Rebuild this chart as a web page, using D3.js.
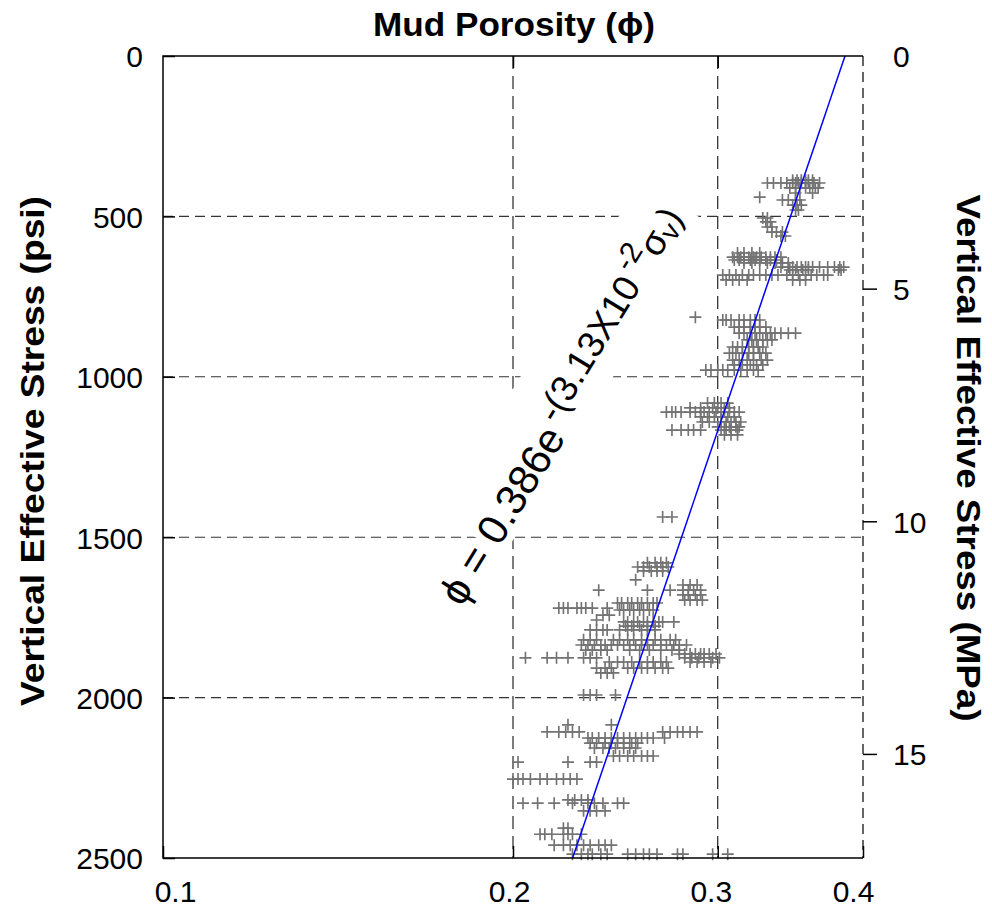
<!DOCTYPE html>
<html>
<head>
<meta charset="utf-8">
<script src="https://cdn.jsdelivr.net/npm/d3@7"></script>
<style>
  html, body { margin: 0; padding: 0; background: #fff; }
  svg { display: block; }
</style>
</head>
<body>
<svg id="chart" width="992" height="911"></svg>
<script>
// ---- data: porosity (fraction) vs vertical effective stress (psi) ----
// each row: [stress psi, [porosity samples at that stress]]
const rowsUpper = [
  [387, [.348,.351,.354,.357,.359,.362]],
  [396, [.331,.335,.340,.344,.348,.350,.352,.354,.357,.359,.362,.363,.367]],
  [411, [.346,.350,.353,.357,.360,.364,.366]],
  [427, [.350,.362]],
  [440, [.326]],
  [449, [.341,.345,.350,.353]],
  [465, [.348,.351,.354]],
  [480, [.350,.352]],
  [505, [.328,.331]],
  [517, [.330,.333]],
  [533, [.331,.334]],
  [549, [.334,.337,.341]],
  [561, [.340,.343]],
  [614, [.312,.316,.321,.326]],
  [627, [.309,.312,.314,.316,.319,.322,.324,.327,.330,.333,.336,.340]],
  [636, [.310,.313,.316,.320,.323,.326,.330,.333,.337]],
  [645, [.316,.321,.326,.331,.336,.341,.345]],
  [658, [.340,.345,.348,.351,.354,.357,.359,.362,.367,.373,.378,.382,.385]],
  [667, [.346,.350,.355,.359,.381,.383]],
  [683, [.303,.307,.311,.315,.319,.322,.326,.330,.334,.338,.344,.348,.352,.357,.361,.365,.370,.373]],
  [698, [.305,.309,.313,.318,.348,.353,.357]]
];
const rowsMiddle = [
  [814, [.287]],
  [823, [.303,.305,.308,.313,.316,.320,.323,.326]],
  [845, [.310,.313,.316,.320,.323,.326,.330]],
  [864, [.313,.316,.320,.323,.326,.330,.333,.336,.340,.345,.350]],
  [885, [.318,.321,.324,.328,.331,.334]],
  [907, [.309,.312,.315,.319,.322,.325,.328]],
  [926, [.307,.311,.315,.319,.322,.326,.330]],
  [948, [.309,.313,.318,.322,.327,.331]],
  [963, [.310,.315,.320,.324,.328]],
  [979, [.293,.296,.300,.303,.306,.310,.314,.318,.322,.325]],
  [1082, [.294,.298,.302,.306]],
  [1097, [.284,.290,.297,.300,.304,.307]],
  [1110, [.271,.274,.276,.279,.284,.287,.290,.292,.295,.299,.302,.304,.307,.310,.313]],
  [1125, [.290,.294,.298,.302,.306,.310]],
  [1141, [.291,.295,.302,.305,.308,.311,.314]],
  [1156, [.300,.304,.307,.311,.313]],
  [1166, [.274,.279,.283,.286,.290,.302,.305,.308,.312]],
  [1181, [.304,.308,.312]],
  [1437, [.269,.274]]
];
const rowsLower = [
  [1580, [.261,.265,.268,.271]],
  [1593, [.256,.259,.262,.266,.269,.272]],
  [1605, [.259,.263,.266,.269]],
  [1633, [.255]],
  [1649, [.280,.284,.288]],
  [1665, [.237,.261,.273,.280,.283,.286,.290]],
  [1680, [.280,.283,.287,.290]],
  [1696, [.281,.284,.288,.291]],
  [1705, [.246,.248,.251,.253,.256,.258,.261,.264,.266]],
  [1721, [.219,.221,.223,.227,.229,.231,.234,.241]],
  [1727, [.247,.249,.252,.254,.257,.259,.262,.264]],
  [1743, [.239,.242]],
  [1758, [.236]],
  [1764, [.249,.251,.254,.256,.259,.261,.264,.267,.269,.275]],
  [1777, [.250,.253,.257,.261,.265]],
  [1789, [.233,.236,.239,.241,.247,.251,.254,.258,.261,.265]],
  [1820, [.230,.233,.236,.244,.247,.251,.254,.258,.261,.265,.268,.273,.276]],
  [1836, [.229,.232,.235,.238,.240,.243,.246,.249,.252,.255,.258,.261,.264,.268,.271,.275,.278,.282]],
  [1852, [.231,.234,.238,.241,.252,.257,.262,.268,.274,.278]],
  [1864, [.278,.281,.284,.287,.290,.292,.295,.299]],
  [1876, [.205,.214,.218,.223,.230,.233,.236,.281,.285,.289,.292,.297,.301]],
  [1889, [.242,.246,.249,.253,.257,.261,.264,.268,.271,.284,.288,.292,.296]],
  [1908, [.236,.240,.243,.251,.254,.258,.261,.265,.269,.272]],
  [1923, [.238,.241,.244]],
  [1992, [.230,.233,.236,.245]]
];
const rowsDeep = [
  [2085, [.223,.243]],
  [2107, [.214,.219,.222,.225,.228,.269,.273,.277,.280,.284,.288]],
  [2126, [.232,.234,.237,.240,.243,.246,.249,.252,.255,.258,.261,.264,.270]],
  [2142, [.233,.236,.240,.243,.246,.249,.253,.256]],
  [2157, [.235,.239,.242,.245,.249,.252,.255]],
  [2182, [.244,.247,.251,.254,.258,.261,.264]],
  [2201, [.202,.223,.233,.236]],
  [2254, [.200,.202,.204,.207,.211,.214,.218,.221,.224,.227]],
  [2319, [.223,.226,.229,.232]],
  [2329, [.204,.210,.217,.225,.232,.235,.239,.246,.249]],
  [2353, [.230,.233,.236,.240]],
  [2407, [.221,.223]],
  [2426, [.211,.213,.216,.221,.223,.225,.229]],
  [2460, [.217,.221,.224,.227,.230,.233,.237,.240,.243]],
  [2488, [.225,.229,.232,.234,.238,.241,.251,.255,.259,.262,.266,.277,.280,.297,.306]]
];

// axis ticks
const porosityTicks = [0.1, 0.2, 0.3, 0.4];
const psiTicks = [0, 500, 1000, 1500, 2000, 2500];
const mpaTicks = [0, 5, 10, 15];
const psiGrid = [500, 1000, 1500, 2000];
const porosityGrid = [0.2, 0.3];

// exponential compaction fit: phi = a * exp(-b * sigma_v[MPa])
const fitA = 0.386;
const fitB = 3.13e-2;
const PSI_PER_MPA = 145.038;

// ---- layout ----
const svg = d3.select("#chart");
const L = 163, R = 863, T = 56, B = 858;
const FONT = "'Liberation Sans', Arial, Helvetica, sans-serif";

const x = d3.scaleLog().domain([0.1, 0.4]).range([L, R]);
const y = d3.scaleLinear().domain([0, 2500]).range([T, B]);
const yMPa = d3.scaleLinear().domain([0, 2500 / PSI_PER_MPA]).range([T, B]);

// ---- grid ----
const grid = svg.append("g").attr("fill", "none");
grid.selectAll("line.h").data(psiGrid).join("line")
  .attr("class", "h")
  .attr("x1", L).attr("x2", R)
  .attr("y1", d => y(d)).attr("y2", d => y(d))
  .attr("stroke", "#333").attr("stroke-width", 1.1)
  .attr("stroke-dasharray", "10,6");
grid.selectAll("line.v").data(porosityGrid).join("line")
  .attr("class", "v")
  .attr("x1", d => x(d)).attr("x2", d => x(d))
  .attr("y1", T).attr("y2", B)
  .attr("stroke", "#111").attr("stroke-width", 1.1)
  .attr("stroke-dasharray", "13,7");

// ---- data markers ----
const points = [];
[rowsUpper, rowsMiddle, rowsLower, rowsDeep].forEach(rows =>
  rows.forEach(([psi, phis]) => phis.forEach(phi => points.push({psi, phi}))));

svg.append("g")
  .selectAll("path").data(points).join("path")
  .attr("transform", d => `translate(${x(d.phi)},${y(d.psi)})`)
  .attr("d", "M-6,0H6M0,-6V6")
  .attr("stroke", "#737373").attr("stroke-width", 1.65).attr("fill", "none");

// ---- fit line ----
const fitStress = d3.range(0, 2501, 50);
svg.append("path")
  .datum(fitStress)
  .attr("d", d3.line()
    .x(s => x(fitA * Math.exp(-fitB * s / PSI_PER_MPA)))
    .y(s => y(s)))
  .attr("fill", "none").attr("stroke", "#0000ff").attr("stroke-width", 1.5);

// ---- equation annotation ----
const eq = svg.append("g").attr("transform", "translate(462,608) rotate(-58.5)");
const bg = eq.append("rect").attr("fill", "#fff");
const eqText = eq.append("text")
  .attr("font-family", FONT).attr("font-size", 42).attr("fill", "#000");
eqText.append("tspan").text("\u03D5 = 0.386e");
eqText.append("tspan").attr("font-size", 37).attr("dx", 6).attr("dy", -15).text("-(3.13X10");
eqText.append("tspan").attr("font-size", 30).attr("dx", 5).attr("dy", -17).text("-2");
eqText.append("tspan").attr("font-size", 37).attr("dy", 17).text("\u03C3");
eqText.append("tspan").attr("font-size", 28).attr("dy", 5).text("v");
eqText.append("tspan").attr("font-size", 37).attr("dy", -5).text(")");
// white backing behind the exponent expression (starts at the "0")
const bb = eqText.node().getBBox();
const x0 = eqText.node().getStartPositionOfChar(4).x;
bg.attr("x", x0 - 4).attr("width", bb.x + bb.width + 8 - (x0 - 4))
  .attr("y", -71).attr("height", 79);

// ---- frame ----
const frame = svg.append("g").attr("fill", "none").attr("stroke", "#000").attr("stroke-width", 1.5);
frame.append("path").attr("d", `M${R},${T}H${L}V${B}H${R}`);
frame.append("line").attr("x1", R).attr("x2", R).attr("y1", T).attr("y2", B)
  .attr("stroke-dasharray", "10,6").attr("stroke-width", 1.2);

// ---- axes ----
const axisBottom = svg.append("g").attr("transform", `translate(0,${B})`)
  .call(d3.axisBottom(x).tickValues(porosityTicks).tickFormat(d3.format(".1f"))
    .tickSizeInner(-12).tickSizeOuter(0).tickPadding(23));
const labelShift = {0.1: 12, 0.2: -4, 0.3: -7, 0.4: -10};
axisBottom.selectAll(".tick text").attr("dx", d => labelShift[d] || 0);

const axisTop = svg.append("g").attr("transform", `translate(0,${T})`)
  .call(d3.axisTop(x).tickValues(porosityGrid).tickFormat("")
    .tickSizeInner(-12).tickSizeOuter(0));

const axisLeft = svg.append("g").attr("transform", `translate(${L},0)`)
  .call(d3.axisLeft(y).tickValues(psiTicks).tickFormat(d3.format("d"))
    .tickSizeInner(-12).tickSizeOuter(0).tickPadding(20));
axisLeft.selectAll(".tick text").attr("dy", "0.36em");

const axisRight = svg.append("g").attr("transform", `translate(${R},0)`)
  .call(d3.axisRight(yMPa).tickValues(mpaTicks).tickFormat(d3.format("d"))
    .tickSizeInner(14).tickSizeOuter(0).tickPadding(16));
axisRight.selectAll(".tick line").attr("stroke-opacity", d => d === 0 ? 0 : 1);
axisRight.selectAll(".tick text").attr("dy", "0.36em");

[axisBottom, axisTop, axisLeft, axisRight].forEach(g => {
  g.select(".domain").remove();
  g.selectAll(".tick line").attr("stroke", "#000").attr("stroke-width", 1.5);
  g.selectAll(".tick text").attr("font-family", FONT).attr("font-size", 30).attr("fill", "#000");
});

// ---- titles ----
svg.append("text")
  .attr("x", 514).attr("y", 36).attr("text-anchor", "middle")
  .attr("font-family", FONT).attr("font-weight", "bold").attr("font-size", 34)
  .attr("textLength", 282).attr("lengthAdjust", "spacingAndGlyphs")
  .text("Mud Porosity (\u03D5)");

svg.append("text")
  .attr("transform", "translate(44,451) rotate(-90)")
  .attr("text-anchor", "middle")
  .attr("font-family", FONT).attr("font-weight", "bold").attr("font-size", 34)
  .attr("textLength", 510).attr("lengthAdjust", "spacingAndGlyphs")
  .text("Vertical Effective Stress (psi)");

svg.append("text")
  .attr("transform", "translate(957,458) rotate(90)")
  .attr("text-anchor", "middle")
  .attr("font-family", FONT).attr("font-weight", "bold").attr("font-size", 34)
  .attr("textLength", 527).attr("lengthAdjust", "spacingAndGlyphs")
  .text("Vertical Effective Stress (MPa)");
</script>
</body>
</html>
